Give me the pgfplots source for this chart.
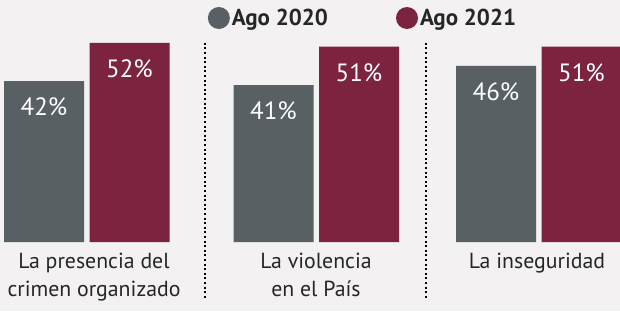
\documentclass[border=0pt]{standalone}
\usepackage{pgfplots}
\pgfplotsset{compat=1.18}
\usepackage{fontspec}
\setmainfont{PT Sans}
\definecolor{cgray}{HTML}{596064}
\definecolor{cred}{HTML}{7C2340}
\definecolor{cbg}{HTML}{F3F1F1}
\begin{document}
\begin{tikzpicture}
\fill[cbg] (0pt,-69pt) rectangle (620pt,242pt);
\useasboundingbox (0pt,-69pt) rectangle (620pt,242pt);
\begin{axis}[
  at={(0pt,0pt)}, anchor=origin,
  scale only axis, width=620pt, height=242pt,
  xmin=0, xmax=620, ymin=0, ymax=63.2,
  axis y line=none, axis x line=bottom, x axis line style={draw=none},
  clip=false,
  /pgf/number format/assume math mode=true,
  ybar, bar width=80,
  xtick={316,537},
  xticklabels={{La violencia\\en el País},{La inseguridad}},
  extra x ticks={94},
  extra x tick labels={{La presencia del\\crimen organizado}},
  xticklabel style={align=center, font=\fontsize{21.8}{28}\selectfont, text=black!85, yshift=-8pt},
  major tick length=0pt,
  ytick=\empty,
  nodes near coords={\pgfmathprintnumber{\pgfplotspointmeta}\%},
  every node near coord/.append style={anchor=center, yshift=-26pt, text=white, font=\fontsize{25}{28}\selectfont},
  legend columns=2,
  legend style={draw=none, fill=none, at={(363pt,224pt)}, anchor=center,
    font=\fontsize{23}{26}\selectfont\bfseries, text=black!85,
    /tikz/every even column/.append style={column sep=66pt}},
]
\addplot[fill=cgray, draw=none, bar shift=-42.5,
  legend image code/.code={\fill[cgray] (-4pt,0pt) circle (11pt);}]
  coordinates {(86.5,42) (316,41) (538.5,46)};
\addlegendentry{Ago 2020}
\addplot[fill=cred, draw=none, bar shift=43,
  legend image code/.code={\fill[cred] (-4pt,0pt) circle (11pt);}]
  coordinates {(86.5,52) (316,51) (538.5,51)};
\addlegendentry{Ago 2021}
\draw[black, line width=2pt, dash pattern=on 2pt off 2.6pt] (axis cs:205,52) -- (axis cs:205,-15.1);
\draw[black, line width=2pt, dash pattern=on 2pt off 2.6pt] (axis cs:426,52) -- (axis cs:426,-15.1);
\end{axis}
\end{tikzpicture}
\end{document}
